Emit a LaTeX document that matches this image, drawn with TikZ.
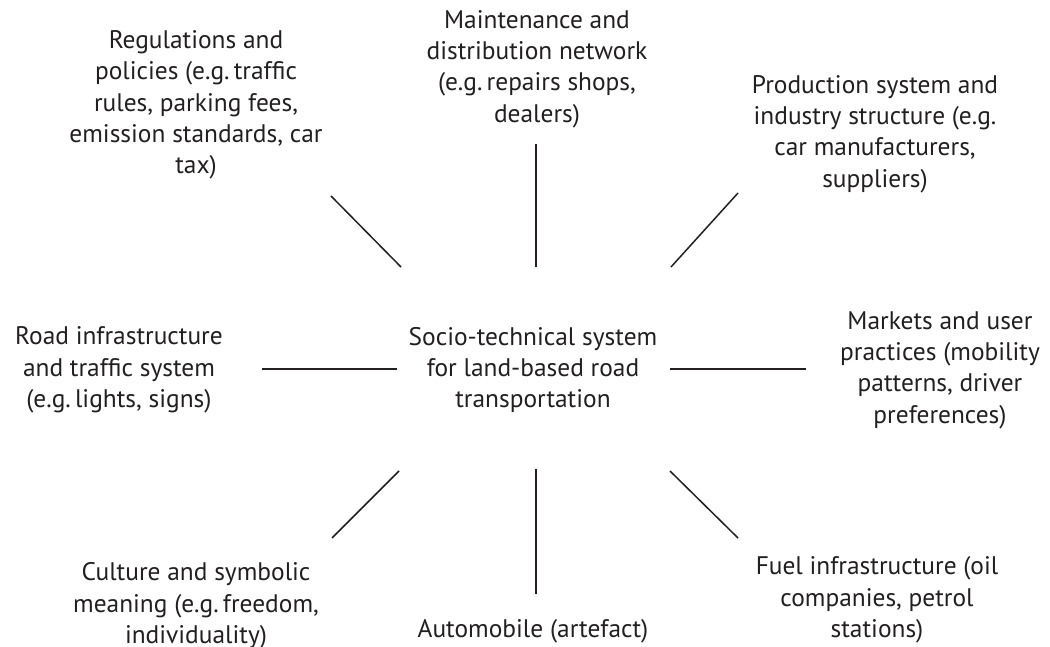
\documentclass[tikz,border=0pt]{standalone}
\usepackage{fontspec}
\setmainfont{PT Sans}
\definecolor{ink}{HTML}{231F20}
\begin{document}
\begin{tikzpicture}[x=1bp,y=-1bp,
  lbl/.style={align=center,inner sep=0pt,text=ink,font=\fontsize{25.5}{31.5}\selectfont},
  conn/.style={draw=ink,line width=1.5bp}]
\useasboundingbox (0,0) rectangle (1050,647);
\node[lbl] (reg) at (196,105) {Regulations and\\policies (e.g.\,traffic\\rules, parking fees,\\emission standards, car\\tax)};
\node[lbl] (mnt) at (537,69) {Maintenance and\\distribution network\\(e.g.\,repairs shops,\\dealers)};
\node[lbl] (prd) at (875,134) {Production system and\\industry structure (e.g.\\car manufacturers,\\suppliers)};
\node[lbl] (road) at (119,370) {Road infrastructure\\and traffic system\\(e.g.\,lights, signs)};
\node[lbl] (core) at (533,370) {Socio-technical system\\for land-based road\\transportation};
\node[lbl] (mkt) at (940,370) {Markets and user\\practices (mobility\\patterns, driver\\preferences)};
\node[lbl] (cul) at (196,606) {Culture and symbolic\\meaning (e.g.\,freedom,\\individuality)};
\node[lbl] (auto) at (533,631) {Automobile (artefact)};
\node[lbl] (fuel) at (877,600) {Fuel infrastructure (oil\\companies, petrol\\stations)};
\coordinate (a1) at (331,196); \coordinate (a2) at (401,267);
\coordinate (b1) at (536,144); \coordinate (b2) at (536,267);
\coordinate (c1) at (738,193); \coordinate (c2) at (671,267);
\coordinate (d1) at (262,369); \coordinate (d2) at (397,369);
\coordinate (e1) at (806,369); \coordinate (e2) at (670,369);
\coordinate (f1) at (332,538); \coordinate (f2) at (399,471);
\coordinate (g1) at (536,594); \coordinate (g2) at (536,469);
\coordinate (h1) at (738,538); \coordinate (h2) at (670,471);
\draw[conn] (a1) -- (a2);
\draw[conn] (b1) -- (b2);
\draw[conn] (c1) -- (c2);
\draw[conn] (d1) -- (d2);
\draw[conn] (e1) -- (e2);
\draw[conn] (f1) -- (f2);
\draw[conn] (g1) -- (g2);
\draw[conn] (h1) -- (h2);
\end{tikzpicture}
\end{document}
